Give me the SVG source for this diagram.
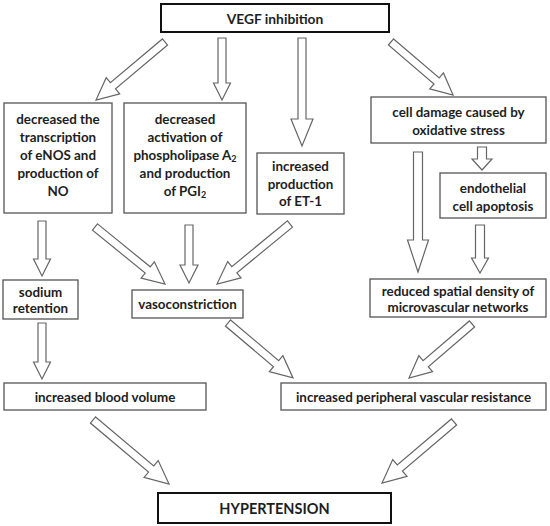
<svg xmlns="http://www.w3.org/2000/svg" width="550" height="526" viewBox="0 0 550 526">
<style>
.box{fill:#fff;stroke:#555;stroke-width:1.3}
.main{fill:#fff;stroke:#111;stroke-width:2}
.arr{fill:#fff;stroke:#666;stroke-width:1.2;stroke-linejoin:miter}
text{font-family:"Lato","Liberation Sans",sans-serif;font-weight:bold;font-size:13.4px;fill:#1e1e1e;text-anchor:middle;dominant-baseline:central}
.big{font-size:14.5px}
.sub{font-size:9px}
</style>
<rect width="550" height="526" fill="#fff"/>
<g id="connectors">
<path class="arr" transform="translate(165,42) rotate(139.95)" d="M0,-4H68V-10.5L90.1,0L68,10.5V4H0Z"/>
<path class="arr" transform="translate(222,38) rotate(90)" d="M0,-4H45V-8.5L62,0L45,8.5V4H0Z"/>
<path class="arr" transform="translate(302,38) rotate(90)" d="M0,-4H81V-11L108,0L81,11V4H0Z"/>
<path class="arr" transform="translate(391,42) rotate(40.5)" d="M0,-4H60V-10.5L81.6,0L60,10.5V4H0Z"/>
<path class="arr" transform="translate(42,221) rotate(90)" d="M0,-4H38V-8.5L55,0L38,8.5V4H0Z"/>
<path class="arr" transform="translate(95,227) rotate(39.15)" d="M0,-4H68V-10.5L90.3,0L68,10.5V4H0Z"/>
<path class="arr" transform="translate(189,225) rotate(90)" d="M0,-4H40V-9L58,0L40,9V4H0Z"/>
<path class="arr" transform="translate(290,224) rotate(140.6)" d="M0,-4H72V-10.5L94.5,0L72,10.5V4H0Z"/>
<path class="arr" transform="translate(418,152) rotate(90)" d="M0,-4.5H88V-10.5L120,0L88,10.5V4.5H0Z"/>
<path class="arr" transform="translate(482,147) rotate(90)" d="M0,-4.5H12V-10L23,0L12,10V4.5H0Z"/>
<path class="arr" transform="translate(480,225) rotate(90)" d="M0,-4.5H33V-8.5L48,0L33,8.5V4.5H0Z"/>
<path class="arr" transform="translate(42,323) rotate(90)" d="M0,-4H39V-8.5L56,0L39,8.5V4H0Z"/>
<path class="arr" transform="translate(228,323) rotate(40.2)" d="M0,-4H63V-10.5L85.1,0L63,10.5V4H0Z"/>
<path class="arr" transform="translate(472,324) rotate(139.4)" d="M0,-4H61V-10.5L83,0L61,10.5V4H0Z"/>
<path class="arr" transform="translate(93,420) rotate(40.1)" d="M0,-4H76V-11L99.4,0L76,11V4H0Z"/>
<path class="arr" transform="translate(454,422) rotate(139.7)" d="M0,-4H71V-11L94.4,0L71,11V4H0Z"/>
</g>
<g id="vegf"><rect class="main" x="161" y="4" width="228" height="28"/><text x="275" y="18.5" style="font-size:13.8px">VEGF inhibition</text></g>
<g id="enos"><rect class="box" x="4" y="103" width="108" height="110"/>
<text x="58" y="119">decreased the</text><text x="58" y="137">transcription</text><text x="58" y="155">of eNOS and</text><text x="58" y="173">production of</text><text x="58" y="191">NO</text></g>
<g id="pla2"><rect class="box" x="124" y="103" width="122" height="110"/>
<text x="185" y="119">decreased</text><text x="185" y="137">activation of</text><text x="185" y="155">phospholipase A<tspan class="sub" dy="3">2</tspan></text><text x="185" y="173">and production</text><text x="185" y="191">of PGI<tspan class="sub" dy="3">2</tspan></text></g>
<g id="et1"><rect class="box" x="257" y="153" width="87" height="61"/>
<text x="300.5" y="166">increased</text><text x="300.5" y="184">production</text><text x="300.5" y="201">of ET-1</text></g>
<g id="oxidative"><rect class="box" x="371" y="97" width="175" height="46"/>
<text x="458.5" y="112">cell damage caused by</text><text x="458.5" y="129.5">oxidative stress</text></g>
<g id="apoptosis"><rect class="box" x="440" y="173" width="106" height="45"/>
<text x="493" y="188">endothelial</text><text x="493" y="205.5">cell apoptosis</text></g>
<g id="sodium"><rect class="box" x="3" y="280" width="75" height="39"/>
<text x="40.5" y="291.5">sodium</text><text x="40.5" y="308">retention</text></g>
<g id="vaso"><rect class="box" x="132" y="290" width="111" height="28"/>
<text x="187.5" y="304">vasoconstriction</text></g>
<g id="microvascular"><rect class="box" x="370" y="279" width="176" height="38"/>
<text x="458" y="290.5">reduced spatial density of</text><text x="458" y="307">microvascular networks</text></g>
<g id="blood"><rect class="box" x="4" y="383" width="202" height="27"/>
<text x="105" y="397">increased blood volume</text></g>
<g id="resistance"><rect class="box" x="281" y="383" width="265" height="27"/>
<text x="413.5" y="397">increased peripheral vascular resistance</text></g>
<g id="hypertension"><rect class="main" x="158" y="493" width="233" height="30"/>
<text class="big" x="274.5" y="508.5">HYPERTENSION</text></g>
</svg>
